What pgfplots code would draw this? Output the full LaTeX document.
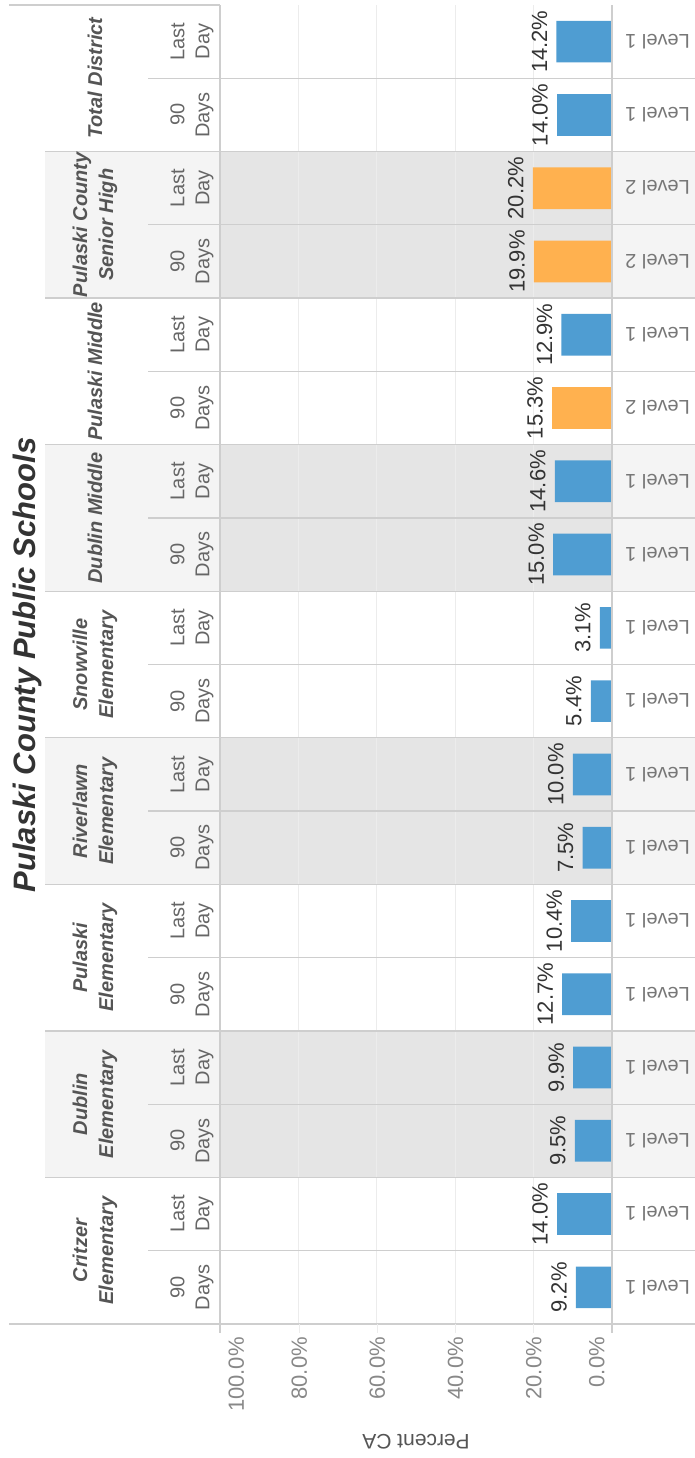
\documentclass[border=0pt]{standalone}
\usepackage{pgfplots}
\pgfplotsset{compat=1.18}
\usepackage{fontspec}
\setmainfont{Liberation Sans}
\definecolor{lone}{RGB}{79,157,210}
\definecolor{ltwo}{RGB}{255,177,79}
\definecolor{band}{RGB}{229,229,229}
\definecolor{headband}{RGB}{244,244,244}
\definecolor{divc}{RGB}{206,206,206}
\definecolor{gridc}{RGB}{236,236,236}
\definecolor{titlec}{RGB}{51,51,51}
\definecolor{schoolc}{RGB}{85,85,85}
\definecolor{periodc}{RGB}{102,102,102}
\definecolor{levelc}{RGB}{119,119,119}
\definecolor{tickc}{RGB}{136,136,136}
\definecolor{valc}{RGB}{51,51,51}
\newcommand\fs[2]{\fontsize{#1}{#2}\selectfont}
\begin{document}
\begin{tikzpicture}[x=1pt,y=1pt]
\useasboundingbox (0,0) rectangle (695,1458);
% shaded groups
\foreach \g in {1,3,5,7}{
  \fill[headband] (45,{134+\g*146.56}) rectangle (220,{134+(\g+1)*146.56});
  \fill[band] (220,{134+\g*146.56}) rectangle (612,{134+(\g+1)*146.56});
  \fill[headband] (612,{134+\g*146.56}) rectangle (695,{134+(\g+1)*146.56});
}
\begin{axis}[
  at={(220pt,134pt)}, anchor=south west,
  scale only axis, width=392pt, height=1319pt,
  xmin=0, xmax=100, x dir=reverse,
  ymin=-0.5, ymax=17.5,
  xbar, bar width=41.7pt,
  axis line style={draw=none},
  xtick={20,40,60,80}, ytick=\empty,
  xticklabel=\empty,
  major tick length=0pt,
  xmajorgrids, grid style={color=gridc, line width=1pt},
  clip=false,
  point meta=x,
  /pgf/number format/assume math mode=true,
  nodes near coords={\pgfmathprintnumber[fixed,fixed zerofill,precision=1]{\pgfplotspointmeta}\%},
  every node near coord/.append style={rotate=90, anchor=south, inner xsep=0pt, inner ysep=9pt, font=\fs{22}{26}, text=valc},
]
\addplot[fill=lone, draw=none, bar shift=0pt] coordinates {
  (9.2,0) (14.0,1) (9.5,2) (9.9,3) (12.7,4) (10.4,5) (7.5,6) (10.0,7)
  (5.4,8) (3.1,9) (15.0,10) (14.6,11) (12.9,13) (14.0,16) (14.2,17)
};
\addplot[fill=ltwo, draw=none, bar shift=0pt] coordinates {
  (15.3,12) (19.9,14) (20.2,15)
};
\end{axis}
% divider lines
\foreach \g in {1,...,8}{
  \draw[divc, line width=1.3pt] (45,{134+\g*146.56}) -- (695,{134+\g*146.56});
}
\foreach \g in {0,...,8}{
  \draw[divc, line width=1.3pt] (148,{134+(\g+0.5)*146.56}) -- (695,{134+(\g+0.5)*146.56});
}
\draw[divc, line width=1.3pt] (9,1453) -- (220,1453);
\draw[divc, line width=1.3pt] (9,134) -- (695,134);
\draw[divc, line width=1.2pt] (220,125) -- (220,1453);
\draw[divc, line width=1.2pt] (612,125) -- (612,1453);
\foreach \xx in {299.2,377.4,455.6,533.8}{
  \draw[gridc, line width=1pt] (\xx,125) -- (\xx,134);
}
% tick labels
\foreach \xx/\lab in {236.3/100.0\%,299.2/80.0\%,377.4/60.0\%,455.6/40.0\%,533.8/20.0\%,596.8/0.0\%}{
  \node[rotate=90, anchor=east, inner sep=0pt, text=tickc, font=\fs{22}{26}] at (\xx,121) {\lab};
}
\node[rotate=180, text=schoolc, font=\fs{21}{25}] at (416,16) {Percent CA};
% title
\node[rotate=90, anchor=base, inner sep=0pt, text=titlec, font=\fs{31}{36}\bfseries\itshape] at (35,793) {Pulaski County Public Schools};
% school headers
\foreach \g/\name in {0/{Critzer\\Elementary},1/{Dublin\\Elementary},2/{Pulaski\\Elementary},3/{Riverlawn\\Elementary},4/{Snowville\\Elementary},5/{Dublin Middle},6/{Pulaski Middle},7/{Pulaski County\\Senior High},8/{Total District}}{
  \node[rotate=90, align=center, inner sep=0pt, text=schoolc, font=\fs{20}{26}\bfseries\itshape] at (95,{134+(\g+0.5)*146.56}) {\name};
}
% period headers
\foreach \k in {0,2,...,16}{
  \node[rotate=90, align=center, inner sep=0pt, text=periodc, font=\fs{20}{25}] at (192,{134+(\k+0.5)*73.28}) {90\\Days};
}
\foreach \k in {1,3,...,17}{
  \node[rotate=90, align=center, inner sep=0pt, text=periodc, font=\fs{20}{25}] at (192,{134+(\k+0.5)*73.28}) {Last\\Day};
}
% level labels
\foreach \k/\l in {0/1,1/1,2/1,3/1,4/1,5/1,6/1,7/1,8/1,9/1,10/1,11/1,12/2,13/1,14/2,15/2,16/1,17/1}{
  \node[rotate=180, anchor=west, inner sep=0pt, text=levelc, font=\fs{20}{24}] at (690,{134+(\k+0.5)*73.28}) {Level \l};
}
\end{tikzpicture}
\end{document}
